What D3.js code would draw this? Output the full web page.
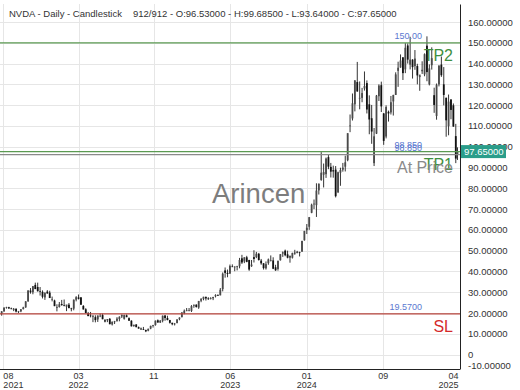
<!DOCTYPE html>
<html>
<head>
<meta charset="utf-8">
<script src="https://cdn.jsdelivr.net/npm/d3@7"></script>
<style>
body { margin: 0; background: #fff; }
svg { display: block; font-family: "Liberation Sans", Arial, sans-serif; }
</style>
</head>
<body>
<div class="chart"></div>
<script>
// weekly candles [open, high, low, close], one per week starting Monday 2021-08-16
var firstMonday = '2021-08-16';
var firstBar = '2021-08-19';
var lastBar = '2025-04-07';

var candles2021 = [
	[19.8, 20.9, 18.7, 20.8], [20.8, 22.7, 20.6, 22.6], [22.6, 23.0, 22.1, 22.8], [22.8, 23.0, 22.0, 22.2],
	[22.2, 22.6, 21.8, 21.9], [21.5, 22.4, 20.9, 22.0], [22.0, 22.3, 20.3, 20.7], [20.6, 21.0, 20.0, 20.8],
	[20.8, 21.9, 20.4, 21.8], [21.9, 23.0, 21.7, 22.7], [22.7, 25.7, 22.5, 25.6], [25.6, 31.0, 25.4, 30.8],
	[30.8, 32.0, 29.3, 30.0], [30.0, 33.0, 29.0, 32.9], [33.5, 34.6, 31.5, 31.5], [32.5, 34.6, 30.3, 30.5],
	[30.5, 32.5, 28.4, 30.2], [30.2, 30.9, 27.0, 27.8], [27.5, 30.0, 26.3, 29.6], [30.3, 31.0, 29.3, 29.4]
];
var candles2022 = [
	[29.8, 30.7, 27.2, 27.2], [26.5, 27.9, 25.6, 26.7], [26.0, 26.4, 23.3, 23.3], [22.5, 24.2, 20.8, 22.9],
	[22.9, 25.3, 22.6, 24.2], [24.3, 26.3, 23.5, 23.8], [23.8, 26.5, 23.2, 23.6], [23.0, 23.8, 20.9, 24.1],
	[24.0, 24.8, 22.4, 22.3], [22.2, 22.5, 20.8, 22.0], [22.1, 26.5, 21.3, 26.4], [26.4, 28.1, 25.6, 27.6],
	[27.5, 28.9, 26.5, 26.8], [27.5, 27.7, 23.9, 24.0], [23.4, 23.8, 21.7, 21.7], [21.8, 22.3, 19.9, 20.0],
	[19.8, 20.5, 18.5, 18.5], [18.8, 20.5, 17.9, 18.7], [18.2, 18.9, 15.6, 18.7], [18.0, 18.9, 15.5, 16.6],
	[16.9, 18.8, 15.7, 18.8], [18.6, 19.7, 18.0, 18.7], [19.0, 19.7, 17.0, 17.0], [16.5, 17.1, 15.5, 15.9],
	[16.5, 17.1, 15.6, 17.1], [17.2, 17.6, 14.6, 14.6], [14.5, 15.9, 14.0, 15.8], [15.6, 16.2, 14.7, 16.0],
	[16.2, 18.0, 15.8, 17.3], [17.1, 18.4, 16.0, 18.2], [18.3, 19.3, 17.6, 19.1], [17.2, 19.2, 16.8, 19.0],
	[18.9, 19.3, 18.0, 18.0], [17.5, 17.9, 16.2, 16.3], [16.3, 16.5, 13.5, 13.6], [13.7, 14.4, 13.4, 14.3],
	[14.5, 14.6, 13.1, 13.2], [13.2, 13.5, 12.5, 12.5], [12.5, 13.0, 11.9, 12.1], [12.3, 13.3, 11.8, 12.0],
	[11.8, 12.0, 10.8, 11.2], [11.5, 12.5, 11.2, 12.4], [12.5, 13.9, 12.2, 13.8], [13.8, 14.3, 13.0, 14.2],
	[14.2, 16.4, 13.9, 16.3], [16.5, 16.9, 15.4, 15.4], [15.4, 16.6, 15.2, 16.3], [16.2, 18.8, 15.5, 18.7],
	[18.8, 19.0, 16.3, 17.6], [17.6, 18.7, 16.5, 16.6], [16.6, 16.7, 14.9, 15.3], [15.3, 15.3, 14.1, 14.6]
];
var candles2023 = [
	[14.9, 15.2, 14.0, 14.9], [15.2, 17.0, 15.0, 16.9], [17.0, 17.9, 16.5, 17.8], [18.0, 20.3, 17.9, 20.3],
	[20.0, 21.7, 19.4, 21.1], [20.9, 22.4, 20.9, 21.3], [21.3, 22.4, 20.8, 21.4], [21.0, 23.8, 20.5, 23.3],
	[23.5, 24.0, 22.5, 24.0], [24.0, 24.2, 22.6, 22.9], [22.6, 25.8, 22.0, 25.8], [25.9, 27.2, 25.2, 26.7],
	[26.7, 27.8, 26.1, 27.8], [27.7, 28.0, 26.0, 27.0], [27.0, 27.6, 26.3, 26.8], [26.8, 27.6, 26.5, 27.1],
	[27.1, 27.8, 26.2, 27.7], [28.0, 29.0, 27.5, 28.7], [28.6, 29.0, 28.2, 28.3], [28.5, 32.0, 28.5, 31.2],
	[31.5, 39.5, 30.4, 38.9], [40.5, 41.9, 37.0, 39.3], [39.3, 40.9, 37.2, 38.8], [39.0, 43.3, 38.8, 42.6],
	[42.4, 43.4, 42.1, 42.2], [42.1, 42.5, 40.1, 42.3], [42.4, 42.7, 40.5, 42.5], [42.5, 46.5, 41.5, 45.5],
	[46.3, 48.0, 43.6, 44.3], [44.8, 46.8, 44.0, 46.8], [46.8, 47.5, 44.4, 44.6], [45.5, 45.6, 40.3, 40.9],
	[42.5, 45.5, 42.2, 43.3], [46.9, 50.2, 44.3, 46.0], [46.9, 49.4, 46.4, 48.5], [48.5, 48.9, 45.2, 45.5],
	[45.2, 46.0, 43.2, 43.9], [43.9, 44.0, 40.9, 41.6], [41.5, 44.8, 40.9, 43.5], [44.0, 46.2, 43.2, 45.8],
	[45.2, 47.7, 44.8, 45.5], [45.3, 46.8, 41.1, 41.3], [42.0, 43.2, 40.3, 40.5], [41.2, 45.3, 40.4, 45.0],
	[45.4, 48.3, 45.2, 48.3], [48.6, 49.6, 47.0, 49.2], [50.0, 50.5, 47.3, 47.8], [48.2, 50.0, 46.3, 46.6],
	[46.6, 47.6, 44.2, 47.5], [46.6, 49.0, 46.2, 48.9], [49.0, 50.4, 48.0, 48.8], [48.8, 49.9, 48.8, 49.5]
];
var candles2024 = [
	[49.2, 49.5, 47.2, 49.0], [49.5, 54.7, 49.5, 54.7], [55.0, 59.5, 54.8, 59.5], [59.8, 62.8, 58.0, 61.0],
	[61.5, 66.2, 60.0, 66.1], [68.2, 72.6, 68.0, 72.1], [72.6, 74.6, 70.0, 72.6], [71.9, 82.4, 66.2, 78.9],
	[79.0, 82.3, 77.0, 82.2], [84.0, 97.4, 83.6, 87.5], [86.5, 91.9, 80.4, 87.8], [86.8, 94.8, 85.0, 94.3],
	[95.0, 96.3, 89.2, 90.4], [90.3, 92.2, 85.2, 88.0], [88.7, 90.9, 85.1, 88.1], [89.0, 90.7, 75.6, 76.2],
	[78.1, 88.0, 77.7, 87.7], [87.5, 89.9, 81.2, 88.8], [89.0, 92.2, 88.0, 89.9], [90.4, 95.7, 88.1, 92.5],
	[93.5, 106.5, 93.0, 106.5], [110.2, 115.5, 107.0, 110.2], [113.6, 125.6, 112.6, 120.9], [120.4, 132.0, 117.0, 131.9],
	[131.1, 140.8, 126.4, 126.6], [123.2, 131.4, 118.0, 123.5], [123.5, 128.3, 121.4, 125.8], [128.0, 136.2, 127.0, 129.2],
	[130.6, 131.9, 116.0, 117.9], [120.4, 124.7, 106.0, 113.1], [113.7, 120.1, 101.4, 107.3], [92.1, 109.0, 90.7, 105.0],
	[106.3, 124.9, 106.1, 124.6], [124.3, 130.0, 122.0, 129.4], [129.6, 131.3, 116.7, 119.4], [116.0, 116.2, 100.9, 102.8],
	[104.9, 119.9, 104.0, 119.1], [116.8, 117.4, 112.1, 116.0], [116.5, 124.4, 115.5, 121.4], [121.8, 125.0, 115.0, 124.9],
	[124.9, 135.8, 124.9, 134.8], [136.5, 140.9, 128.8, 138.0], [138.1, 144.4, 138.0, 141.5], [143.0, 143.1, 132.1, 135.4],
	[137.2, 149.8, 135.4, 147.6], [148.7, 149.7, 140.0, 141.9], [139.5, 152.9, 137.2, 141.9], [141.9, 142.1, 132.8, 138.3],
	[138.8, 146.5, 137.0, 142.4], [138.8, 139.9, 130.0, 134.3], [133.5, 134.0, 126.9, 134.7], [136.3, 141.1, 135.0, 137.0],
	[134.8, 144.9, 133.9, 144.5]
];
var candles2025 = [
	[148.6, 153.1, 131.5, 135.9], [130.0, 139.6, 129.5, 137.7], [139.2, 147.8, 137.1, 142.6], [124.8, 128.4, 116.3, 120.1],
	[114.8, 130.4, 113.0, 129.8], [130.0, 139.3, 129.0, 138.9], [139.5, 143.4, 133.6, 134.4], [130.0, 138.3, 119.9, 124.9],
	[123.5, 123.7, 104.8, 112.7], [109.9, 125.1, 105.5, 121.7], [122.7, 122.9, 113.2, 117.7], [119.9, 120.8, 109.6, 109.7],
	[105.1, 111.0, 92.1, 94.3], [96.53, 99.685, 93.64, 97.65]
];

var yTicks = [-10, 0, 10, 20, 30, 40, 50, 60, 70, 80, 90, 100, 110, 120, 130, 140, 150, 160];
var xTickDates = ['2021-08-23', '2022-03-30', '2022-11-04', '2023-06-15', '2024-01-24', '2024-09-03', '2025-04-10'];
var xTickMonths = ['08', '03', '11', '06', '01', '09', '04'];
var xTickYears = ['2021', '2022', '', '2023', '2024', '', '2025'];

var levelNames = ['TP2', 'TP1', 'At Price', 'SL'];
var levelValues = [150, 97.65, 96.2, 19.57];
var levelTexts = ['150.00', '98.850', '98.850', '19.5700'];
var levelColors = ['#5b9a52', '#5b9a52', '#8a8a8a', '#b5423a'];
var levelTextColors = ['#3f8f3f', '#3f8f3f', '#8a8a8a', '#d42a2a'];

var lastClose = 97.65;
var titleLeft = 'NVDA - Daily - Candlestick';
var titleRight = '912/912 - O:96.53000 - H:99.68500 - L:93.64000 - C:97.65000';

var margin = {top: 4, right: 60, bottom: 21, left: 0};
var width = 520 - margin.left - margin.right;
var height = 390 - margin.top - margin.bottom;

var svg = d3.select('.chart')
	.append('svg')
	.attr('width', 520)
	.attr('height', 390);

var g = svg.append('g')
	.attr('transform', 'translate(' + margin.left + ',' + margin.top + ')');

var parseDate = d3.timeParse('%Y-%m-%d');

var xScale = d3.scaleTime()
	.domain([parseDate(firstBar), parseDate(lastBar)])
	.range([2, 457.5]);

var yScale = d3.scaleLinear()
	.domain([-6.94, 168.66])
	.range([height, 0]);

var bars = [].concat(candles2021, candles2022, candles2023, candles2024, candles2025).map(function (c, i) {
	var monday = d3.timeDay.offset(parseDate(firstMonday), i * 7);
	var mid = d3.timeDay.offset(monday, 2);
	if (mid > parseDate(lastBar)) mid = parseDate(lastBar);
	return {date: mid, o: c[0], h: c[1], l: c[2], c: c[3]};
});

// grid
g.append('g')
	.attr('class', 'ygrid')
	.selectAll('line')
	.data(yTicks.filter(function (d) { return d >= 0; }))
	.enter()
	.append('line')
	.attr('x1', 0)
	.attr('x2', width)
	.attr('y1', function (d) { return Math.round(yScale(d)) + 0.5; })
	.attr('y2', function (d) { return Math.round(yScale(d)) + 0.5; })
	.style('stroke', '#e6e6e6');

g.append('g')
	.attr('class', 'xgrid')
	.selectAll('line')
	.data(xTickDates.slice(0, -1))
	.enter()
	.append('line')
	.attr('x1', function (d) { return Math.round(xScale(parseDate(d))) + 0.5; })
	.attr('x2', function (d) { return Math.round(xScale(parseDate(d))) + 0.5; })
	.attr('y1', 0)
	.attr('y2', height)
	.style('stroke', '#e6e6e6');

// watermark
g.append('text')
	.attr('x', 212)
	.attr('y', 199)
	.style('font-size', '27.5px')
	.style('fill', '#7d7d7d')
	.text('Arincen');

// candles
var candle = g.append('g').attr('class', 'candles')
	.selectAll('g')
	.data(bars)
	.enter()
	.append('g');

candle.append('line')
	.attr('x1', function (d) { return xScale(d.date); })
	.attr('x2', function (d) { return xScale(d.date); })
	.attr('y1', function (d) { return yScale(d.h); })
	.attr('y2', function (d) { return yScale(d.l); })
	.style('stroke', '#1e1e1e')
	.style('stroke-width', 0.9);

candle.append('rect')
	.attr('x', function (d) { return xScale(d.date) - 0.9; })
	.attr('width', 1.8)
	.attr('y', function (d) { return yScale(Math.max(d.o, d.c)); })
	.attr('height', function (d) { return Math.max(0.7, Math.abs(yScale(d.o) - yScale(d.c))); })
	.style('fill', function (d) { return d.c >= d.o ? '#4a4a4a' : '#111'; });

// levels
var level = g.append('g').attr('class', 'levels')
	.selectAll('g')
	.data(levelValues)
	.enter()
	.append('g');

level.append('line')
	.attr('x1', 0)
	.attr('x2', width)
	.attr('y1', function (d) { return yScale(d); })
	.attr('y2', function (d) { return yScale(d); })
	.style('stroke', function (d, i) { return levelColors[i]; })
	.style('stroke-width', 1.3);

level.append('text')
	.attr('x', 422)
	.attr('y', function (d) { return yScale(d) - 3.5; })
	.attr('text-anchor', 'end')
	.style('font-size', '9px')
	.style('fill', '#5a78d0')
	.text(function (d, i) { return levelTexts[i]; });

level.append('text')
	.attr('x', 453)
	.attr('y', function (d) { return yScale(d) + 18.5; })
	.attr('text-anchor', 'end')
	.style('font-size', '16px')
	.style('fill', function (d, i) { return levelTextColors[i]; })
	.text(function (d, i) { return levelNames[i]; });

// axes
var yAxis = d3.axisRight(yScale)
	.tickValues(yTicks)
	.tickSize(0)
	.tickPadding(8)
	.tickFormat(function (d) { return d === 0 ? '0' : d.toFixed(5); });

var yAxisG = g.append('g')
	.attr('class', 'yaxis')
	.attr('transform', 'translate(' + width + ',0)')
	.call(yAxis);

yAxisG.selectAll('.tick')
	.filter(function (d) { return d < yScale.domain()[0]; })
	.attr('transform', 'translate(0,' + (height - 3.5) + ')');

yAxisG.select('.domain').style('stroke', '#222');
yAxisG.selectAll('text')
	.style('font-size', '9.5px')
	.style('font-family', '"Liberation Sans", Arial, sans-serif')
	.style('fill', '#333');

g.append('line')
	.attr('x1', 0)
	.attr('x2', width)
	.attr('y1', height + 0.5)
	.attr('y2', height + 0.5)
	.style('stroke', '#222');

var xTick = g.append('g')
	.attr('class', 'xaxis')
	.attr('transform', 'translate(0,' + height + ')')
	.selectAll('g')
	.data(xTickDates)
	.enter()
	.append('g')
	.attr('transform', function (d) { return 'translate(' + xScale(parseDate(d)) + ',0)'; });

function anchorFor(i) {
	if (i === 0) return 'start';
	if (i === xTickDates.length - 1) return 'end';
	return 'middle';
}

xTick.append('text')
	.attr('y', 9.5)
	.attr('text-anchor', function (d, i) { return anchorFor(i); })
	.style('font-size', '9px')
	.style('fill', '#333')
	.text(function (d, i) { return xTickMonths[i]; });

xTick.append('text')
	.attr('y', 18.5)
	.attr('text-anchor', function (d, i) { return anchorFor(i); })
	.style('font-size', '9px')
	.style('fill', '#333')
	.text(function (d, i) { return xTickYears[i]; });

// last price badge
var badge = g.append('g')
	.attr('transform', 'translate(' + (width + 1) + ',' + yScale(lastClose) + ')');

badge.append('rect')
	.attr('x', 0)
	.attr('y', -6.5)
	.attr('width', 45)
	.attr('height', 13)
	.style('fill', '#2a9d8a');

badge.append('text')
	.attr('x', 3)
	.attr('y', 3.5)
	.style('font-size', '9.5px')
	.style('fill', '#fff')
	.text(lastClose.toFixed(5));

// title
svg.append('text')
	.attr('x', 9)
	.attr('y', 16.5)
	.style('font-size', '9.5px')
	.style('fill', '#333')
	.text(titleLeft);

svg.append('text')
	.attr('x', 133)
	.attr('y', 16.5)
	.style('font-size', '9.5px')
	.style('fill', '#333')
	.text(titleRight);
</script>
</body>
</html>
